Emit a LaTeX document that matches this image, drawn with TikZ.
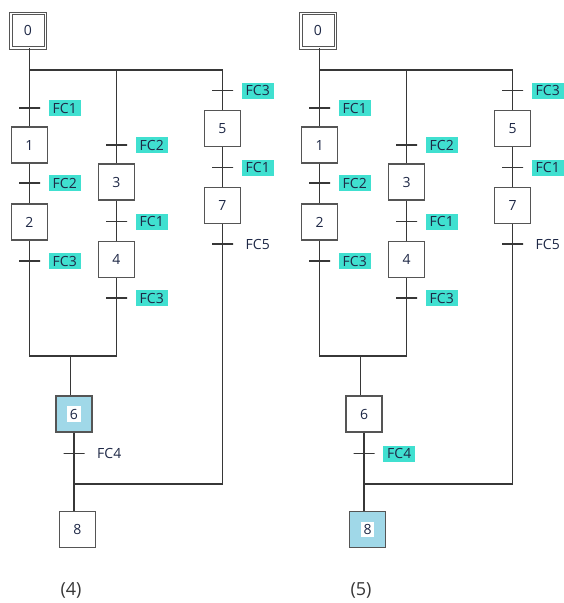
\documentclass[tikz,border=0pt]{standalone}
\usepackage{fontspec}
\setmainfont{Open Sans}
\usetikzlibrary{positioning}

\definecolor{fcteal}{RGB}{64,224,208}
\definecolor{stepblue}{RGB}{160,216,232}
\definecolor{inkgray}{RGB}{55,55,55}
\definecolor{boxgray}{RGB}{85,85,85}
\definecolor{txtnavy}{RGB}{30,40,70}

% step number, plain or on a white tag
\newcommand{\stepnum}[1]{#1}
\newcommand{\tagnum}[1]{{\fboxsep=2.5pt\colorbox{white}{#1}}}

% one grafcet: #1 step 6, #2 FC4 label, #3 step 8, #4 caption
\newcommand{\grafcet}[4]{%
	\node[initstep] (s0) at (28, 30.5) {\stepnum{0}};
	\node[stepbox]  (s1) at (29.5, 145) {\stepnum{1}};
	\node[stepbox]  (s2) at (29.5, 222) {\stepnum{2}};
	\node[stepbox]  (s3) at (116.5, 182) {\stepnum{3}};
	\node[stepbox]  (s4) at (116.5, 259.5) {\stepnum{4}};
	\node[stepbox]  (s5) at (222.5, 128.5) {\stepnum{5}};
	\node[stepbox]  (s7) at (222.5, 205.5) {\stepnum{7}};
	\node[stepbox, #1] (s6) at (74, 414) {\stepnum{6}};
	\node[stepbox, #3] (s8) at (77.5, 529.5) {\stepnum{8}};
	
	\coordinate (split) at (29.5, 70);
	\coordinate (join)  at (29.5, 356);
	\coordinate (merge) at (70.5, 356);
	\coordinate (back)  at (74, 484);
	
	\draw[wire] (s0.south -| split) -- (split) -- (s1);
	\draw[wire] (split) -- (split -| s5) -- (s5);
	\draw[wire] (split -| s3) -- (s3);
	\draw[wire] (s1) -- (s2);
	\draw[wire] (s3) -- (s4);
	\draw[wire] (s2) -- (join) -- (join -| s4) -- (s4);
	\draw[wire] (s5) -- (s7) -- (back -| s7) -- (back);
	\draw[wire] (merge) -- (merge |- s6.north);
	\draw[wire] (s6) -- (s6 |- s8.north);
	
	% transitions
	\node[tick] (t1) at (29.5, 108) {};
	\node[fcon, right=8.5pt of t1] (l1) {FC1};
	\node[tick] (t2) at (29.5, 183) {};
	\node[fcon, right=8.5pt of t2] (l2) {FC2};
	\node[tick] (t3) at (29.5, 261) {};
	\node[fcon, right=8.5pt of t3] (l3) {FC3};
	\node[tick] (t4) at (116.5, 145) {};
	\node[fcon, right=8.5pt of t4] (l4) {FC2};
	\node[tick] (t5) at (116.5, 221.5) {};
	\node[fcon, right=8.5pt of t5] (l5) {FC1};
	\node[tick] (t6) at (116.5, 298) {};
	\node[fcon, right=8.5pt of t6] (l6) {FC3};
	\node[tick] (t7) at (222.5, 90.5) {};
	\node[fcon, right=8.5pt of t7] (l7) {FC3};
	\node[tick] (t8) at (222.5, 167.5) {};
	\node[fcon, right=8.5pt of t8] (l8) {FC1};
	\node[tick] (t9) at (222.5, 244) {};
	\node[fcoff, right=8.5pt of t9] (l9) {FC5};
	\node[tick] (t10) at (74, 453.5) {};
	\node[#2, right=8.5pt of t10] (l10) {FC4};
	
	\node[caption] (cap) at (71, 590) {#4};
}

\begin{document}
\begin{tikzpicture}[
	x=1pt, y=-1pt,
	wire/.style={draw=inkgray, line width=1.4pt},
	stepbox/.style={
		draw=boxgray, line width=1.2pt, fill=white, rectangle,
		minimum size=36pt, inner sep=0pt,
		font=\fontsize{14}{16}\selectfont, text=txtnavy
	},
	initstep/.style={
		stepbox, line width=1pt, double=white, double distance=1.5pt,
		minimum size=34.5pt
	},
	active/.style={fill=stepblue, execute at begin node={\let\stepnum\tagnum}},
	tick/.style={
		draw=inkgray, line width=1.3pt, rectangle,
		minimum width=21pt, minimum height=0pt, inner sep=0pt, outer sep=0pt
	},
	fcon/.style={
		fill=fcteal, text=txtnavy, inner xsep=4pt, inner ysep=3pt,
		text height=10pt, text depth=0pt, font=\fontsize{14}{16}\selectfont
	},
	fcoff/.style={fcon, fill=none},
	caption/.style={font=\fontsize{18}{21}\selectfont, text=inkgray},
	]
	\useasboundingbox (0,0) rectangle (563,603);
	
	\begin{scope}[name prefix=a-]
		\grafcet{active}{fcoff}{}{(4)}
	\end{scope}
	\begin{scope}[xshift=290pt, name prefix=b-]
		\grafcet{}{fcon}{active}{(5)}
	\end{scope}
	
\end{tikzpicture}
\end{document}
